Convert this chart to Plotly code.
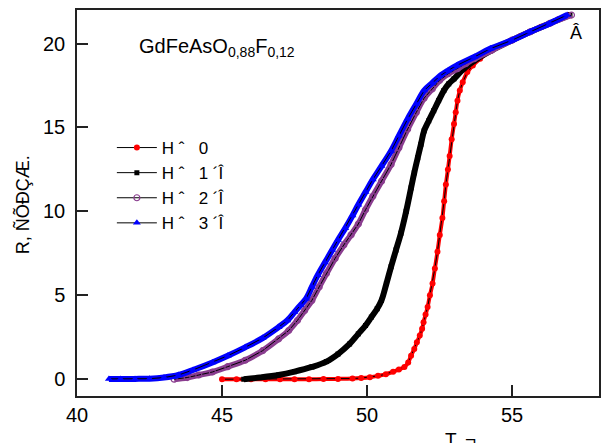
import plotly.graph_objects as go

# ---- data ----
T_h0 = [45.0, 45.5, 46.0, 46.5, 47.0, 47.5, 48.0, 48.5, 49.0, 49.5, 49.8, 50.1, 50.38, 50.65, 50.9,
        51.1, 51.29, 51.42, 51.52, 51.63, 51.72, 51.82, 51.9, 51.95, 52.02, 52.09, 52.17, 52.26,
        52.34, 52.43, 52.51, 52.6, 52.66, 52.72, 52.79, 52.85, 52.92, 53.0, 53.06, 53.12, 53.2,
        53.3, 53.46, 53.65, 53.9, 54.25, 54.6, 55.0, 55.3, 55.63, 56.0, 56.3, 56.6, 56.95]
R_h0 = [0.0, 0.0, 0.0, 0.0, 0.0, 0.0, 0.0, 0.01, 0.02, 0.04, 0.07, 0.12, 0.2, 0.3, 0.45,
        0.58, 0.73, 1.0, 1.4, 1.8, 2.2, 2.6, 3.0, 3.4, 3.85, 4.3, 5.0, 5.7,
        6.6, 7.6, 8.6, 9.6, 10.6, 11.6, 12.5, 13.3, 14.3, 15.2, 15.9, 16.6, 17.2,
        17.7, 18.3, 18.7, 19.1, 19.55, 19.9, 20.2, 20.45, 20.7, 21.0, 21.2, 21.45, 21.7]

T_h1 = [45.75, 46.3, 46.95, 47.5, 48.1, 48.6, 49.0, 49.4, 49.7, 49.95, 50.15, 50.35, 50.5, 50.67,
        50.83, 51.0, 51.17, 51.35, 51.52, 51.63, 51.75, 51.86, 51.97, 52.13, 52.3, 52.47, 52.65,
        52.82, 53.0, 53.34, 53.8, 54.3, 55.0, 55.63, 56.3, 57.0]
R_h1 = [0.0, 0.1, 0.25, 0.45, 0.73, 1.05, 1.5, 2.1, 2.7, 3.2, 3.7, 4.2, 4.7, 5.7,
        6.7, 7.7, 8.7, 10.0, 11.4, 12.3, 13.2, 14.0, 14.8, 15.4, 16.0, 16.6, 17.2,
        17.6, 17.9, 18.5, 19.1, 19.6, 20.2, 20.7, 21.2, 21.7]

T_h2 = [43.35, 43.8, 44.2, 44.67, 45.2, 45.8, 46.4, 46.95, 47.3, 47.6, 47.85, 48.1, 48.35, 48.6,
        48.9, 49.2, 49.45, 49.7, 49.95, 50.2, 50.5, 50.83, 51.1, 51.4, 51.7, 51.97, 52.25, 52.5,
        52.8, 53.12, 53.4, 53.7, 54.3, 55.0, 55.63, 56.3, 57.05]
R_h2 = [0.0, 0.1, 0.25, 0.43, 0.75, 1.13, 1.7, 2.4, 2.9, 3.5, 4.1, 4.7, 5.5, 6.3,
        7.2, 8.0, 8.6, 9.25, 10.1, 10.9, 11.8, 12.8, 13.8, 14.9, 15.9, 16.75, 17.3, 17.8,
        18.2, 18.5, 18.8, 19.1, 19.6, 20.2, 20.7, 21.2, 21.7]

T_h3 = [41.1, 41.5, 42.0, 42.5, 43.0, 43.5, 44.0, 44.67, 45.2, 45.8, 46.4, 46.95, 47.25, 47.5,
        47.7, 47.9, 48.1, 48.3, 48.55, 48.8, 49.0, 49.25, 49.5, 49.7, 49.95, 50.2, 50.5, 50.83,
        51.1, 51.4, 51.7, 51.97, 52.25, 52.5, 52.8, 53.1, 53.7, 54.26, 55.0, 55.63, 56.3, 56.9]
R_h3 = [0.02, 0.02, 0.02, 0.03, 0.1, 0.25, 0.55, 1.0, 1.4, 1.9, 2.45, 3.1, 3.5, 4.0,
        4.4, 4.8, 5.5, 6.2, 6.95, 7.7, 8.3, 9.0, 9.75, 10.4, 11.15, 11.9, 12.7, 13.6,
        14.5, 15.5, 16.4, 17.2, 17.65, 18.05, 18.4, 18.7, 19.2, 19.7, 20.2, 20.7, 21.2, 21.7]

legend_names = ["H\u00a0ˆ\u00a0\u00a0 0", "H\u00a0ˆ\u00a0\u00a0 1\u00a0´Î",
                "H\u00a0ˆ\u00a0\u00a0 2\u00a0´Î", "H\u00a0ˆ\u00a0\u00a0 3\u00a0´Î"]
x_ticks = [40, 45, 50, 55]
y_ticks = [0, 5, 10, 15, 20]

FONT = "Liberation Sans, Arial, sans-serif"

series = [
    (T_h0, R_h0, "#ff0000", dict(symbol="circle", size=6, color="#ff0000"), 4),
    (T_h1, R_h1, "#000000", dict(symbol="square", size=5, color="#000000"), 6),
    (T_h2, R_h2, "#8a3d8f", dict(symbol="circle-open", size=6, color="#8a3d8f", line=dict(width=1.2)), 6),
    (T_h3, R_h3, "#0000ff", dict(symbol="triangle-up", size=7, color="#0000ff"), 6),
]

fig = go.Figure()
for (tx, ry, col, mk, w), name in zip(series, legend_names):
    fig.add_trace(go.Scatter(x=tx, y=ry, mode="lines", line=dict(color=col, width=w, shape="spline"),
                             showlegend=False, hoverinfo="skip"))
    fig.add_trace(go.Scatter(x=tx, y=ry, mode="lines+markers", name=name,
                             line=dict(color="#000000", width=1),
                             marker=mk))

axis_common = dict(showline=True, linecolor="#222222", linewidth=1.5, mirror=True,
                   ticks="inside", ticklen=11, tickwidth=1.5, tickcolor="#222222",
                   showgrid=False, zeroline=False,
                   tickfont=dict(family=FONT, size=20, color="#000000"))

fig.update_xaxes(range=[40, 58], tickvals=x_ticks, ticktext=[str(v) for v in x_ticks], **axis_common)
fig.update_yaxes(range=[-1, 22], tickvals=y_ticks, ticktext=[str(v) for v in y_ticks],
                 ticklabelstandoff=6, **axis_common)

annots = [
    dict(x=(137 - 77) / 524, y=(396 - 47) / 386, xref="paper", yref="paper", showarrow=False,
         text="GdFeAsO<sub>0,88</sub>F<sub>0,12</sub>", xanchor="left", yanchor="middle",
         font=dict(family=FONT, size=20, color="#000000")),
    dict(x=(578 - 77) / 524, y=(396 - 33) / 386, xref="paper", yref="paper", showarrow=False,
         text="Â", xanchor="center", yanchor="middle",
         font=dict(family=FONT, size=18, color="#000000")),
    dict(x=(462 - 77) / 524, y=-(427 - 396) / 386, xref="paper", yref="paper",
         showarrow=False, text="T, ¬", xanchor="center", yanchor="top",
         font=dict(family=FONT, size=19, color="#000000")),
    dict(x=-(77 - 22) / 524, y=(396 - 205) / 386, xref="paper", yref="paper",
         showarrow=False, text="R, ÑÕÐÇÆ.", textangle=-90, xanchor="center", yanchor="middle",
         font=dict(family=FONT, size=18, color="#000000")),
]

fig.update_layout(
    width=602, height=443,
    margin=dict(l=77, r=1, t=10, b=47),
    paper_bgcolor="white", plot_bgcolor="white",
    annotations=annots,
    legend=dict(x=(112 - 77) / 524, y=(396 - 130) / 386, xanchor="left", yanchor="top",
                bgcolor="rgba(0,0,0,0)", font=dict(family=FONT, size=17, color="#000000"),
                itemwidth=40, tracegroupgap=0),
    font=dict(family=FONT),
)

fig.write_html("out.html", config={"displayModeBar": False},
               post_script="document.body.style.margin='0';")
